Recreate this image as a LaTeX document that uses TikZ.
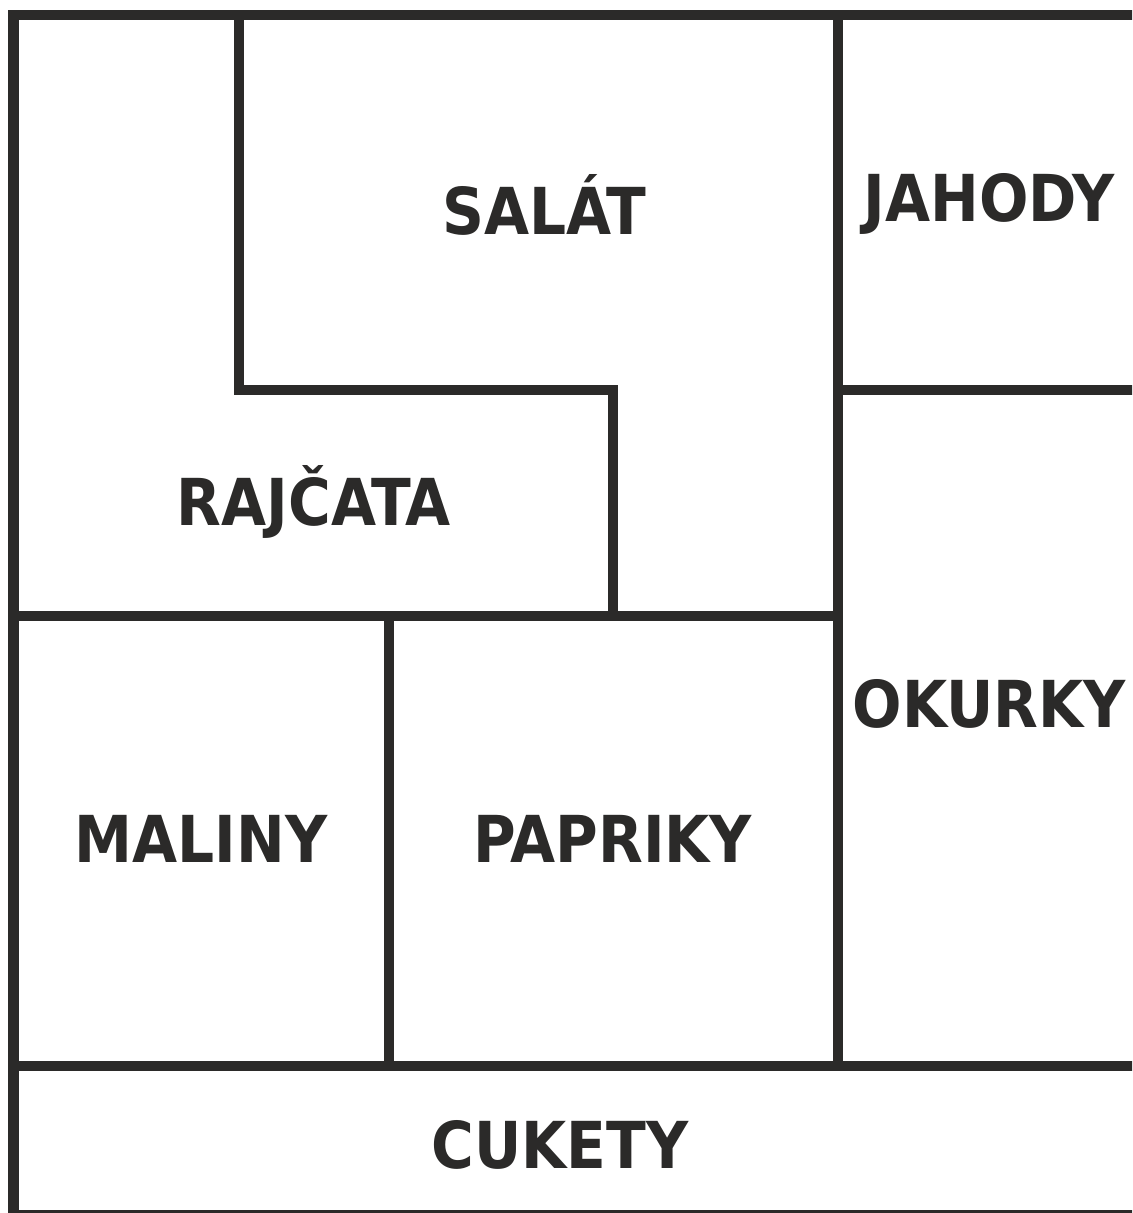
\documentclass[tikz,border=0pt]{standalone}
\usepackage{fontspec}
\setmainfont{DejaVu Sans Condensed}
\definecolor{ink}{HTML}{2B2A29}
\tikzset{
  bed/.style={font=\fontsize{18.4}{20}\bfseries\selectfont, text=ink, anchor=base, inner sep=0pt},
}
\begin{document}
\begin{tikzpicture}[x=0.01cm, y=-0.01cm, line join=miter, line cap=rect]
        \def\xmax{1132} \def\ymax{1213}
        \useasboundingbox (0,0) rectangle (\xmax,\ymax);
        \clip (0,0) rectangle (\xmax,\ymax);
        \begin{scope}[draw=ink, line width=3.1pt]
        % outline
        \draw (1200,15)--(13.5,15)--(13.5,1260);
        \draw (13.5,1215)--(1200,1215);
        % salat / rajcata
        \draw (239,15)--(239,390)--(613,390)--(613,616);
        \draw (13.5,616)--(838,616);
        % right column
        \draw (838,15)--(838,1066);
        \draw (838,390)--(1200,390);
        % maliny / papriky
        \draw (389,616)--(389,1066);
        \draw (13.5,1066)--(1200,1066);
        \end{scope}
        \node[bed] (salat) at (544,235) {SALÁT};
        \node[bed] (jahody) at (989,222) {JAHODY};
        \node[bed] (rajcata) at (314,525) {RAJČATA};
        \node[bed] (okurky) at (989,727) {OKURKY};
        \node[bed] (maliny) at (201,862) {MALINY};
        \node[bed] (papriky) at (613,862) {PAPRIKY};
        \node[bed] (cukety) at (560,1168) {CUKETY};
    \end{tikzpicture}
\end{document}
